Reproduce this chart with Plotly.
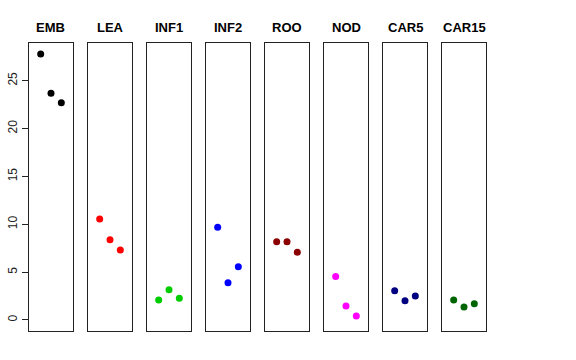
import plotly.graph_objects as go

categories = ["EMB", "LEA", "INF1", "INF2", "ROO", "NOD", "CAR5", "CAR15"]
colors = ["#000000", "#FF0000", "#00CD00", "#0000FF", "#8B0000", "#FF00FF", "#000080", "#006400"]
replicate_x = [1, 2, 3]
emb = [27.8, 23.7, 22.7]
lea = [10.55, 8.39, 7.31]
inf1 = [2.09, 3.17, 2.27]
inf2 = [9.68, 3.9, 5.57]
roo = [8.18, 8.18, 7.07]
nod = [4.53, 1.46, 0.42]
car5 = [3.06, 2.02, 2.51]
car15 = [2.09, 1.36, 1.70]
series = [emb, lea, inf1, inf2, roo, nod, car5, car15]
y_ticks = [0, 5, 10, 15, 20, 25]

W, H = 576, 360
fig = go.Figure()
left0, step, width = 28.7, 59.0, 44.6
ytop, ybot = 43.0, 330.7
for i, (name, vals, col) in enumerate(zip(categories, series, colors)):
    k = "" if i == 0 else str(i + 1)
    fig.add_trace(go.Scatter(x=replicate_x, y=vals, mode="markers",
                             marker=dict(color=col, size=7),
                             xaxis="x" + k, yaxis="y" + k, showlegend=False))
    x0 = (left0 + step * i) / W
    x1 = (left0 + step * i + width) / W
    fig.layout["xaxis" + k] = dict(domain=[x0, x1], range=[-0.16, 4.16],
                                   showline=True, mirror=True, linecolor="#222",
                                   linewidth=1, showgrid=False, zeroline=False,
                                   showticklabels=False, ticks="",
                                   anchor="y" + k)
    ya = dict(domain=[1 - ybot / H, 1 - ytop / H], range=[-1.12, 28.94],
              showline=True, mirror=True, linecolor="#222", linewidth=1,
              showgrid=False, zeroline=False, anchor="x" + k)
    if i == 0:
        ya.update(tickvals=y_ticks, ticktext=[str(v) for v in y_ticks],
                  ticks="outside", ticklen=6, tickcolor="#222", tickangle=-90,
                  tickfont=dict(size=12, color="#222", family="Liberation Sans"))
    else:
        ya.update(showticklabels=False, ticks="")
    fig.layout["yaxis" + k] = ya
    fig.add_annotation(x=(x0 + x1) / 2, y=1 - 28 / H, xref="paper", yref="paper",
                       xanchor="center", yanchor="middle",
                       text="<b>" + name + "</b>", showarrow=False,
                       font=dict(size=13, color="#000", family="Liberation Sans"))

fig.update_layout(width=W, height=H, margin=dict(l=0, r=0, t=0, b=0),
                  plot_bgcolor="white", paper_bgcolor="white")
fig.write_html("out.html", config={"displayModeBar": False},
               post_script="document.body.style.margin='0';")
